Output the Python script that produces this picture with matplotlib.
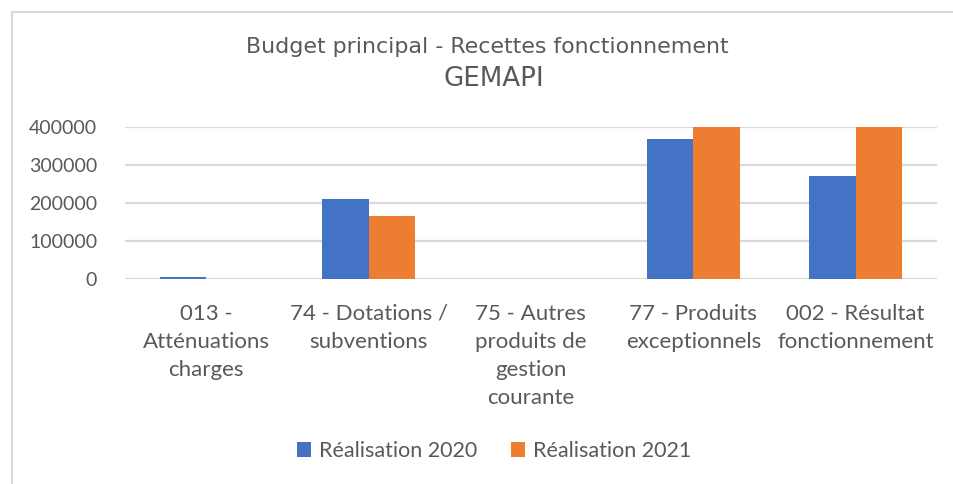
import matplotlib.pyplot as plt
import numpy as np
from matplotlib.lines import Line2D

categories = [
    "013 -\nAtténuations\ncharges",
    "74 - Dotations /\nsubventions",
    "75 - Autres\nproduits de\ngestion\ncourante",
    "77 - Produits\nexceptionnels",
    "002 - Résultat\nfonctionnement",
]
real_2020 = [6000, 211000, 0, 368000, 272000]
real_2021 = [0, 166000, 0, 400000, 400000]
yticks = [0, 100000, 200000, 300000, 400000]

blue = "#4472C4"
orange = "#ED7D31"
txt = "#595959"
grid = "#D9D9D9"

plt.rcParams['font.family'] = ['Lato', 'DejaVu Sans']

fig = plt.figure(figsize=(9.54, 4.84), dpi=100)
ax = fig.add_axes([0.131, 0.4236, 0.851, 0.314])

x = np.arange(len(categories))
w = 0.285
ax.bar(x - w / 2, real_2020, w, color=blue, label="Réalisation 2020", zorder=3)
ax.bar(x + w / 2, real_2021, w, color=orange, label="Réalisation 2021", zorder=3)

ax.set_xlim(-0.5, len(categories) - 0.5)
ax.set_ylim(0, 400000)
ax.set_yticks(yticks)
ax.set_yticklabels([str(v) for v in yticks])
ax.yaxis.grid(True, color=grid, linewidth=1.6, zorder=0)
for s in ax.spines.values():
    s.set_visible(False)
ax.tick_params(axis='both', length=0, labelcolor=txt)
ax.tick_params(axis='y', pad=20, labelsize=14)
ax.tick_params(axis='x', pad=18, labelsize=16)
ax.set_xticks(x)
ax.set_xticklabels(categories, linespacing=1.5, va='top')

fig.text(0.511, 0.903, "Budget principal - Recettes fonctionnement",
         ha='center', va='center', fontsize=15.9, color=txt, family='DejaVu Sans')
fig.text(0.518, 0.837, "GEMAPI", ha='center', va='center', fontsize=18.8, color=txt,
         family='DejaVu Sans')

fig.legend(loc='center', bbox_to_anchor=(0.518, 0.068), ncol=2, frameon=False,
           fontsize=15.5, labelcolor=txt, handlelength=0.65, handleheight=0.65,
           handletextpad=0.35, columnspacing=1.6)

# chart frame
fig.add_artist(Line2D([12 / 954, 12 / 954], [0, 1 - 12 / 484], color=grid, linewidth=1.5))
fig.add_artist(Line2D([12 / 954, 1], [1 - 12 / 484, 1 - 12 / 484], color=grid, linewidth=1.5))

fig.savefig("out.png", dpi=100, facecolor="white")
